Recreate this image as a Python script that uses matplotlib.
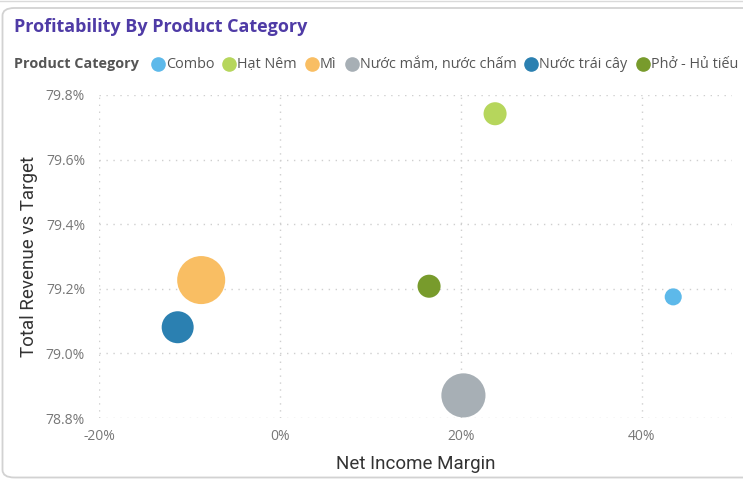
import matplotlib
matplotlib.use("Agg")
import matplotlib.pyplot as plt
from matplotlib.patches import FancyBboxPatch
from matplotlib.ticker import FuncFormatter

# data
categories = ["Combo", "Hạt Nêm", "Mì", "Nước mắm, nước chấm", "Nước trái cây", "Phở - Hủ tiếu"]
net_income_margin = [43.5, 23.8, -8.7, 20.3, -11.3, 16.5]        # %
revenue_vs_target = [79.175, 79.742, 79.227, 78.870, 79.081, 79.208]  # %
bubble_value = [290, 530, 2300, 1940, 1020, 530]                   # relative bubble size
colors = ["#5DB9EA", "#B6D65C", "#F9BE63", "#A7AFB5", "#2B80B1", "#789B2C"]

W, H = 743, 479
fig = plt.figure(figsize=(W / 100, H / 100), dpi=100)

# card border (plus edge of the card above)
card = FancyBboxPatch((2.5 / W, 1.5 / H), 760 / W, 469.5 / H,
                      boxstyle="round,pad=0,rounding_size=0.016",
                      transform=fig.transFigure, facecolor="none",
                      edgecolor="#D2D2D2", linewidth=1.3, zorder=-1)
fig.patches.append(card)
fig.lines.append(plt.Line2D([0, 1], [1 - 1 / H, 1 - 1 / H], color="#DADADA",
                            linewidth=1, transform=fig.transFigure))

fig.text(14 / W, 1 - 27 / H, "Profitability By Product Category",
         fontsize=13, fontweight="bold", color="#4F3BA6",
         family="Open Sans", va="center", ha="left")

# legend built by hand
renderer = fig.canvas.get_renderer()
ly = 1 - 64 / H
t = fig.text(14 / W, ly, "Product Category", fontsize=10.4, fontweight="bold",
             color="#555555", family="Open Sans", va="center", ha="left")
x = t.get_window_extent(renderer).x1 + 13
for name, c in zip(categories, colors):
    fig.lines.append(plt.Line2D([(x + 6) / W], [ly], marker="o", markersize=9.5,
                                color=c, transform=fig.transFigure))
    t = fig.text((x + 14) / W, ly, name, fontsize=10.4, color="#555555",
                 family="Open Sans", va="center", ha="left")
    x = t.get_window_extent(renderer).x1 + 9

ax = fig.add_axes([99 / W, 1 - 418 / H, 633 / W, 323 / H])
ax.set_facecolor("none")
ax.scatter(net_income_margin, revenue_vs_target, s=[v * 0.52 for v in bubble_value],
           c=colors, linewidths=0, zorder=3)

ax.set_xlim(-20, 50)
ax.set_ylim(78.8, 79.8)
ax.set_xticks([-20, 0, 20, 40])
ax.set_yticks([78.8, 79.0, 79.2, 79.4, 79.6, 79.8])
ax.xaxis.set_major_formatter(FuncFormatter(lambda v, p: f"{v:.0f}%"))
ax.yaxis.set_major_formatter(FuncFormatter(lambda v, p: f"{v:.1f}%"))
ax.grid(True, color="#CFCFCF", linestyle=(0, (1, 4)), linewidth=1.0)
ax.set_axisbelow(True)
for s in ax.spines.values():
    s.set_visible(False)
ax.tick_params(length=0, labelsize=10, labelcolor="#777777")
for lab in ax.get_xticklabels() + ax.get_yticklabels():
    lab.set_family("Open Sans")
ax.tick_params(axis="x", pad=8)
ax.tick_params(axis="y", pad=10)

ax.set_xlabel("Net Income Margin", fontsize=13.5, color="#333333", family="Roboto", labelpad=8)
ax.set_ylabel("Total Revenue vs Target", fontsize=13.5, color="#333333", family="Roboto", labelpad=6)

fig.savefig("out.png", dpi=100)
